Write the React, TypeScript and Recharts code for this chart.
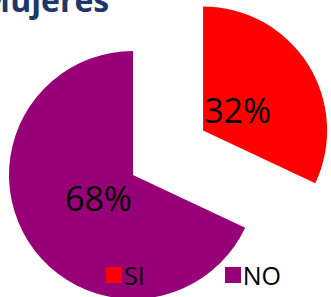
import React from "react"
import { Cell, Legend, Pie, PieChart } from "recharts"

const categories = ["SI", "NO"]
const values = [32, 68]
const colors = ["#ff0000", "#970077"]

const data = categories.map((name, i) => ({ name, value: values[i] }))

const RADIAN = Math.PI / 180
const CX = 133
const CY = 175
const RADIUS = 124
const EXPLODE = 83

// the SI slice is pulled out along its middle angle
const total = values.reduce((a, b) => a + b, 0)
const siMid = 90 - (180 * values[0]) / total
const siCx = CX + EXPLODE * Math.cos(siMid * RADIAN)
const siCy = CY - EXPLODE * Math.sin(siMid * RADIAN)

const labelFor = (show: number) => (props: any) => {
  const { cx, cy, midAngle, outerRadius, index, value } = props
  if (index !== show) return null
  const r = outerRadius * 0.33
  const x = cx + r * Math.cos(-midAngle * RADIAN)
  const y = cy + r * Math.sin(-midAngle * RADIAN)
  return (
    <text
      x={x}
      y={y + 1}
      fill="#000"
      textAnchor="middle"
      dominantBaseline="central"
      style={{ fontFamily: "Open Sans", fontSize: 34 }}
    >
      {`${Math.round((value / total) * 100)}%`}
    </text>
  )
}

function LegendContent() {
  return (
    <div style={{ display: "flex", fontFamily: "Open Sans", fontSize: 25, color: "#000" }}>
      {categories.map((c, i) => (
        <div key={c} style={{ display: "flex", alignItems: "center", marginLeft: i === 0 ? 106 : 80 }}>
          <span style={{ width: 16, height: 16, background: colors[i], display: "inline-block", marginRight: 2 }} />
          <span>{c}</span>
        </div>
      ))}
    </div>
  )
}

export default function App() {
  return (
    <div style={{ position: "fixed", left: 0, top: 0, width: 331, height: 297, overflow: "hidden", background: "#fff" }}>
      <div
        style={{
          position: "absolute",
          left: -20,
          top: -20,
          fontFamily: "Open Sans",
          fontWeight: 700,
          fontSize: 32,
          color: "#1c3768",
          lineHeight: "40px",
          whiteSpace: "nowrap",
        }}
      >
        Mujeres
      </div>
      <PieChart width={331} height={297} margin={{ top: 0, right: 0, bottom: 0, left: 0 }}>
        <Pie
          data={data}
          dataKey="value"
          nameKey="name"
          cx={CX}
          cy={CY}
          outerRadius={RADIUS}
          startAngle={90}
          endAngle={-270}
          stroke="none"
          labelLine={false}
          label={labelFor(1)}
          isAnimationActive={false}
        >
          {data.map((d, i) => (
            <Cell key={d.name} fill={i === 1 ? colors[i] : "none"} />
          ))}
        </Pie>
        <Pie
          data={data}
          dataKey="value"
          nameKey="name"
          cx={siCx}
          cy={siCy}
          outerRadius={RADIUS}
          startAngle={90}
          endAngle={-270}
          stroke="none"
          labelLine={false}
          label={labelFor(0)}
          isAnimationActive={false}
        >
          {data.map((d, i) => (
            <Cell key={d.name} fill={i === 0 ? colors[i] : "none"} />
          ))}
        </Pie>
        <Legend
          content={<LegendContent />}
          wrapperStyle={{ position: "absolute", left: 0, top: 258, width: 331 }}
        />
      </PieChart>
    </div>
  )
}
